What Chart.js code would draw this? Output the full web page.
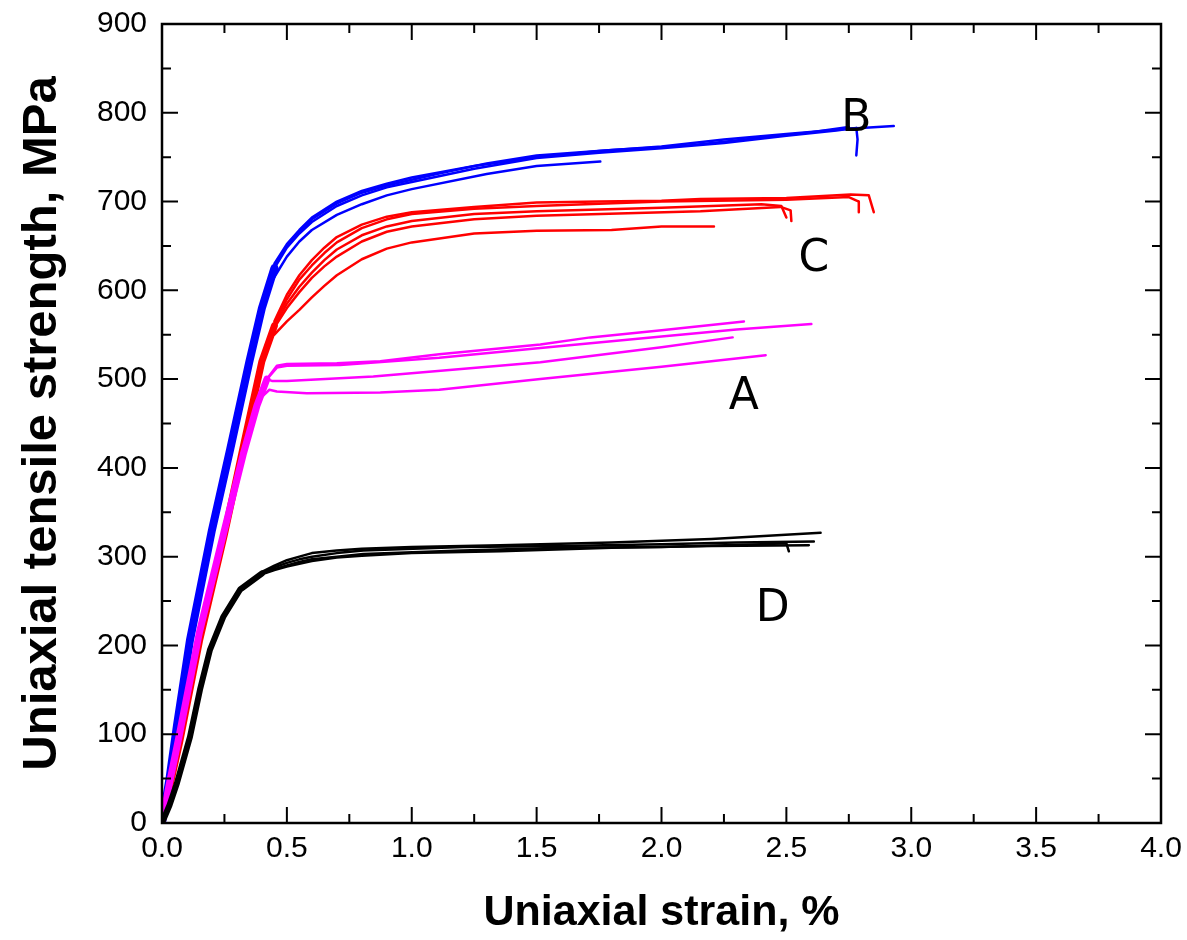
<!DOCTYPE html>
<html>
<head>
<meta charset="utf-8">
<script src="https://cdn.jsdelivr.net/npm/chart.js@4.4.1/dist/chart.umd.min.js"></script>
<style>
  body { margin: 0; background: #fff; }
</style>
</head>
<body>
<canvas id="myChart" width="1187" height="940"></canvas>
<script>
// strain (%) / stress (MPa)

// elastic parts (dense band of points)
const strainBe = [0, 0.03, 0.06, 0.112, 0.2, 0.273, 0.35, 0.4, 0.45];
const stressBe = [0, 50, 110, 206, 330, 421, 520, 580, 625];
const strainCe = [0, 0.03, 0.07, 0.15, 0.25, 0.33, 0.4, 0.45];
const stressCe = [0, 40, 90, 205, 325, 430, 520, 560];
const strainAe = [0, 0.03, 0.07, 0.15, 0.25, 0.325, 0.38, 0.42];
const stressAe = [0, 45, 100, 215, 330, 415, 470, 500];
const strainDe = [0, 0.03, 0.06, 0.112, 0.152, 0.192, 0.245, 0.313, 0.4];
const stressDe = [0, 20, 45, 97, 150, 195, 232, 263, 281];

// B (blue)
const strainB1 = [0.45, 0.5, 0.55, 0.6, 0.7, 0.8, 0.9, 1.0, 1.25, 1.5, 1.75, 2.0, 2.25, 2.5, 2.75, 2.93];
const stressB1 = [630, 652, 668, 682, 700, 712, 720, 727, 740, 750, 757, 762, 770, 776, 782, 785];
const strainB2 = [0.45, 0.5, 0.55, 0.6, 0.7, 0.8, 0.9, 1.0, 1.25, 1.5, 1.75, 2.0, 2.25, 2.5, 2.7, 2.78, 2.785, 2.78];
const stressB2 = [625, 648, 664, 677, 695, 707, 716, 722, 737, 749, 755, 760, 766, 774, 780, 783, 770, 752];
const strainB3 = [0.45, 0.5, 0.55, 0.6, 0.7, 0.8, 0.9, 1.1, 1.3, 1.5, 1.8, 2.1, 2.4, 2.6, 2.75];
const stressB3 = [628, 650, 666, 680, 698, 710, 718, 731, 743, 752, 758, 763, 772, 778, 784];
const strainB4 = [0.45, 0.5, 0.55, 0.6, 0.7, 0.8, 0.9, 1.0, 1.3, 1.5, 1.755];
const stressB4 = [615, 638, 655, 668, 685, 697, 707, 714, 731, 740, 745];

// C (red)
const strainC1 = [0.45, 0.5, 0.55, 0.6, 0.65, 0.7, 0.8, 0.9, 1.0, 1.25, 1.5, 1.75, 2.0, 2.156, 2.5, 2.757, 2.83, 2.85];
const stressC1 = [565, 595, 617, 634, 648, 660, 674, 683, 688, 694, 699, 700, 701, 703, 704, 708, 707, 688];
const strainC2 = [0.45, 0.5, 0.55, 0.6, 0.65, 0.7, 0.8, 0.9, 1.0, 1.25, 1.5, 2.0, 2.5, 2.75, 2.79, 2.79];
const stressC2 = [563, 590, 612, 628, 642, 654, 670, 680, 686, 692, 695, 700, 702, 705, 700, 688];
const strainC3 = [0.45, 0.5, 0.55, 0.6, 0.65, 0.7, 0.8, 0.9, 1.0, 1.25, 1.5, 2.0, 2.4, 2.48, 2.5];
const stressC3 = [560, 585, 604, 620, 634, 646, 662, 672, 678, 686, 689, 693, 697, 695, 682];
const strainC4 = [0.45, 0.5, 0.55, 0.6, 0.65, 0.7, 0.8, 0.9, 1.0, 1.25, 1.5, 2.156, 2.477, 2.517, 2.52];
const stressC4 = [558, 580, 598, 614, 627, 638, 655, 666, 672, 680, 684, 689, 694, 690, 678];
const strainC5 = [0.45, 0.5, 0.55, 0.6, 0.65, 0.7, 0.8, 0.9, 1.0, 1.25, 1.5, 1.8, 2.0, 2.21];
const stressC5 = [550, 565, 578, 592, 605, 617, 635, 647, 654, 664, 667, 668, 672, 672];

// A (magenta)
const strainA1 = [0.42, 0.46, 0.5, 0.7, 0.874, 1.11, 1.515, 1.715, 2.0, 2.33];
const stressA1 = [500, 515, 517, 518, 520, 528, 539, 547, 555, 565];
const strainA2 = [0.42, 0.46, 0.5, 0.713, 1.11, 1.515, 2.0, 2.3, 2.6];
const stressA2 = [500, 513, 515, 516, 524, 535, 548, 556, 562];
const strainA3 = [0.42, 0.44, 0.5, 0.846, 1.515, 2.0, 2.285];
const stressA3 = [500, 498, 498, 503, 519, 536, 547];
const strainA4 = [0.4, 0.43, 0.46, 0.58, 0.874, 1.11, 1.515, 2.0, 2.417];
const stressA4 = [480, 488, 486, 484, 485, 488, 500, 514, 527];

// D (black)
const strainD1 = [0.4, 0.45, 0.5, 0.55, 0.6, 0.7, 0.8, 1.0, 1.355, 1.8, 2.2, 2.637];
const stressD1 = [283, 290, 296, 300, 304, 307, 309, 311, 313, 316, 320, 327];
const strainD2 = [0.4, 0.45, 0.5, 0.55, 0.6, 0.7, 0.806, 1.206, 1.6, 2.0, 2.3, 2.61];
const stressD2 = [282, 288, 293, 297, 300, 304, 307, 311, 312, 314, 316, 317];
const strainD3 = [0.4, 0.45, 0.5, 0.55, 0.6, 0.7, 0.8, 1.0, 1.355, 1.8, 2.2, 2.59];
const stressD3 = [280, 285, 289, 292, 295, 299, 301, 304, 306, 310, 312, 313];
const strainD4 = [0.4, 0.45, 0.5, 0.55, 0.6, 0.7, 0.806, 1.2, 1.6, 2.0, 2.4, 2.5, 2.51];
const stressD4 = [281, 286, 290, 294, 297, 300, 303, 307, 310, 311, 314, 315, 306];

// curve labels
const labelText = ["B", "C", "A", "D"];
const labelStrain = [2.78, 2.61, 2.33, 2.445];
const labelStress = [792, 635, 479, 240];

const xTicks = [0, 0.5, 1, 1.5, 2, 2.5, 3, 3.5, 4];
const yTicks = [0, 100, 200, 300, 400, 500, 600, 700, 800, 900];

const pts = (xs, ys) => xs.map((x, i) => ({ x: x, y: ys[i] }));

const curva = (xs, ys, color, w) => ({
  data: pts(xs, ys),
  showLine: true,
  borderColor: color,
  backgroundColor: color,
  borderWidth: w,
  borderJoinStyle: "round",
  borderCapStyle: "round",
  pointRadius: 0,
  tension: 0,
});

const AZUL = "#0000ff";
const ROJO = "#ff0000";
const MAGENTA = "#ff00ff";
const NEGRO = "#000000";

// index 0 is drawn on top
const datasets = [
  curva(strainD1, stressD1, NEGRO, 2.5),
  curva(strainD2, stressD2, NEGRO, 2.5),
  curva(strainD3, stressD3, NEGRO, 2.5),
  curva(strainD4, stressD4, NEGRO, 2.5),
  curva(strainDe, stressDe, NEGRO, 6),
  curva(strainAe, stressAe, MAGENTA, 7),
  curva(strainA1, stressA1, MAGENTA, 2.5),
  curva(strainA2, stressA2, MAGENTA, 2.5),
  curva(strainA3, stressA3, MAGENTA, 2.5),
  curva(strainA4, stressA4, MAGENTA, 2.5),
  curva(strainCe, stressCe, ROJO, 7),
  curva(strainC1, stressC1, ROJO, 2.5),
  curva(strainC2, stressC2, ROJO, 2.5),
  curva(strainC3, stressC3, ROJO, 2.5),
  curva(strainC4, stressC4, ROJO, 2.5),
  curva(strainC5, stressC5, ROJO, 2.5),
  curva(strainBe, stressBe, AZUL, 8),
  curva(strainB1, stressB1, AZUL, 2.5),
  curva(strainB2, stressB2, AZUL, 2.5),
  curva(strainB3, stressB3, AZUL, 2.5),
  curva(strainB4, stressB4, AZUL, 2.5),
];

// frame, inward ticks on all four sides, and the A-D letters
const marcoPlugin = {
  id: "marco",
  afterDraw(chart) {
    const { ctx, chartArea: a, scales } = chart;
    const sx = scales.x, sy = scales.y;
    ctx.save();
    ctx.strokeStyle = "#000";
    ctx.lineWidth = 2.5;
    ctx.strokeRect(a.left, a.top, a.right - a.left, a.bottom - a.top);
    ctx.lineWidth = 2;
    const major = 16, minor = 9;
    ctx.beginPath();
    for (let i = 0; i < xTicks.length; i++) {
      const px = sx.getPixelForValue(xTicks[i]);
      ctx.moveTo(px, a.bottom); ctx.lineTo(px, a.bottom - major);
      ctx.moveTo(px, a.top); ctx.lineTo(px, a.top + major);
      if (i < xTicks.length - 1) {
        const pm = sx.getPixelForValue((xTicks[i] + xTicks[i + 1]) / 2);
        ctx.moveTo(pm, a.bottom); ctx.lineTo(pm, a.bottom - minor);
        ctx.moveTo(pm, a.top); ctx.lineTo(pm, a.top + minor);
      }
    }
    for (let i = 0; i < yTicks.length; i++) {
      const py = sy.getPixelForValue(yTicks[i]);
      ctx.moveTo(a.left, py); ctx.lineTo(a.left + major, py);
      ctx.moveTo(a.right, py); ctx.lineTo(a.right - major, py);
      if (i < yTicks.length - 1) {
        const pm = sy.getPixelForValue((yTicks[i] + yTicks[i + 1]) / 2);
        ctx.moveTo(a.left, pm); ctx.lineTo(a.left + minor, pm);
        ctx.moveTo(a.right, pm); ctx.lineTo(a.right - minor, pm);
      }
    }
    ctx.stroke();

    ctx.fillStyle = "#000";
    ctx.font = "44px 'DejaVu Sans'";
    ctx.textAlign = "center";
    ctx.textBaseline = "middle";
    for (let i = 0; i < labelText.length; i++) {
      ctx.fillText(labelText[i], sx.getPixelForValue(labelStrain[i]), sy.getPixelForValue(labelStress[i]));
    }
    ctx.restore();
  },
};

const fuenteTicks = { family: "'Liberation Sans', Arial, sans-serif", size: 30 };
const fuenteTitulo = { family: "'Liberation Sans', Arial, sans-serif", size: 43, weight: "bold" };

// no overhang padding from the end labels
const sinSobrante = (s) => { s.paddingTop = 0; s.paddingBottom = 0; s.paddingLeft = 0; s.paddingRight = 0; };

const config = {
  type: "scatter",
  data: { datasets: datasets },
  options: {
    responsive: false,
    animation: false,
    layout: { padding: { top: 24, right: 26, left: 0, bottom: 0 } },
    plugins: { legend: { display: false }, tooltip: { enabled: false } },
    scales: {
      x: {
        type: "linear",
        min: 0,
        max: 4,
        afterFit: (s) => { s.height = 117; sinSobrante(s); },
        afterBuildTicks: (s) => { s.ticks = xTicks.map((v) => ({ value: v })); },
        grid: { display: false, drawTicks: false },
        border: { display: false },
        ticks: {
          color: "#000",
          font: fuenteTicks,
          padding: 8,
          maxRotation: 0,
          callback: (v) => Number(v).toFixed(1),
        },
        title: {
          display: true,
          text: "Uniaxial strain, %",
          color: "#000",
          font: fuenteTitulo,
          padding: { top: 0, bottom: 1 },
        },
      },
      y: {
        type: "linear",
        min: 0,
        max: 900,
        afterFit: (s) => { s.width = 162; sinSobrante(s); },
        afterBuildTicks: (s) => { s.ticks = yTicks.map((v) => ({ value: v })); },
        grid: { display: false, drawTicks: false },
        border: { display: false },
        ticks: {
          color: "#000",
          font: fuenteTicks,
          padding: 15,
        },
        title: {
          display: true,
          text: "Uniaxial tensile strength, MPa",
          color: "#000",
          font: { family: "'Liberation Sans', Arial, sans-serif", size: 49, weight: "bold" },
          padding: { top: 13, bottom: 0 },
        },
      },
    },
  },
  plugins: [marcoPlugin],
};

new Chart(document.getElementById("myChart"), config);
</script>
</body>
</html>
